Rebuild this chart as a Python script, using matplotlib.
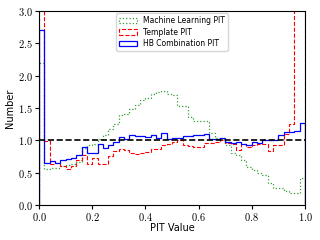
import matplotlib
matplotlib.use("Agg")
import matplotlib.pyplot as plt
import matplotlib.ticker as mticker
import numpy as np

plt.rcParams.update({
    "font.family": "DejaVu Sans",
    "mathtext.fontset": "cm",
    "font.size": 7,
})

# 50 PIT bins on [0, 1]
bin_edges = np.linspace(0.0, 1.0, 51)

ml_pit = [
    2.20, 0.55, 0.57, 0.57, 0.60, 0.62, 0.64, 0.66, 0.88, 0.92,
    0.95, 1.02, 1.08, 1.17, 1.26, 1.39, 1.41, 1.48, 1.55, 1.62,
    1.66, 1.72, 1.74, 1.76, 1.71, 1.70, 1.53, 1.53, 1.36, 1.30,
    1.30, 1.30, 1.11, 1.04, 1.02, 0.92, 0.80, 0.78, 0.70, 0.58,
    0.54, 0.50, 0.46, 0.34, 0.27, 0.26, 0.21, 0.18, 0.18, 0.41,
]
template_pit = [
    5.00, 0.99, 0.64, 0.65, 0.60, 0.56, 0.60, 0.70, 0.77, 0.63,
    0.72, 0.64, 0.64, 0.76, 0.83, 0.86, 0.85, 0.80, 0.79, 0.80,
    0.82, 0.87, 0.87, 0.92, 0.95, 0.98, 1.00, 0.93, 0.91, 0.90,
    0.90, 0.96, 0.96, 0.98, 1.00, 0.96, 0.95, 0.85, 0.95, 0.90,
    0.92, 0.95, 0.95, 0.84, 0.92, 0.92, 1.10, 1.26, 5.00, 5.00,
]
hb_pit = [
    2.70, 0.65, 0.68, 0.65, 0.70, 0.71, 0.72, 0.77, 0.89, 0.81,
    0.81, 0.95, 0.88, 0.92, 0.98, 1.05, 1.02, 1.08, 1.06, 1.06,
    1.05, 1.08, 1.03, 1.12, 1.02, 1.04, 1.03, 1.06, 1.07, 1.08,
    1.08, 1.10, 1.02, 1.02, 1.04, 0.98, 0.96, 0.97, 0.94, 0.92,
    0.98, 0.96, 1.00, 1.00, 1.01, 1.08, 1.13, 1.13, 1.14, 1.27,
]

centers = 0.5 * (bin_edges[:-1] + bin_edges[1:])

fig = plt.figure(figsize=(3.2, 2.4), dpi=100)
ax = fig.add_axes([0.122, 0.146, 0.831, 0.808])

ax.hist(centers, bins=bin_edges, weights=ml_pit, histtype="step",
        color="g", linestyle=":", linewidth=0.9, alpha=0.8,
        label="Machine Learning PIT")
ax.hist(centers, bins=bin_edges, weights=template_pit, histtype="step",
        color="r", linestyle="--", linewidth=0.8, label="Template PIT")
ax.hist(centers, bins=bin_edges, weights=hb_pit, histtype="step",
        color="b", linestyle="-", linewidth=0.9, label="HB Combination PIT")
ax.axhline(1.0, color="k", linestyle="--", linewidth=1.2)

ax.set_xlim(0, 1)
ax.set_ylim(0, 3)
ax.set_xticks(np.arange(0, 1.01, 0.2))
ax.set_yticks(np.arange(0, 3.01, 0.5))
fmt = mticker.FuncFormatter(lambda v, _: f"${v:.1f}$")
ax.xaxis.set_major_formatter(fmt)
ax.yaxis.set_major_formatter(fmt)
ax.tick_params(labelsize=7.5, length=3, pad=1.5)
ax.set_xlabel("PIT Value", fontsize=7, labelpad=0)
ax.set_ylabel("Number", fontsize=7, labelpad=2)
ax.legend(loc="upper center", fontsize=5.5, handlelength=2.3,
          borderaxespad=0.3, labelspacing=0.3)

fig.savefig("out.png", dpi=100)
